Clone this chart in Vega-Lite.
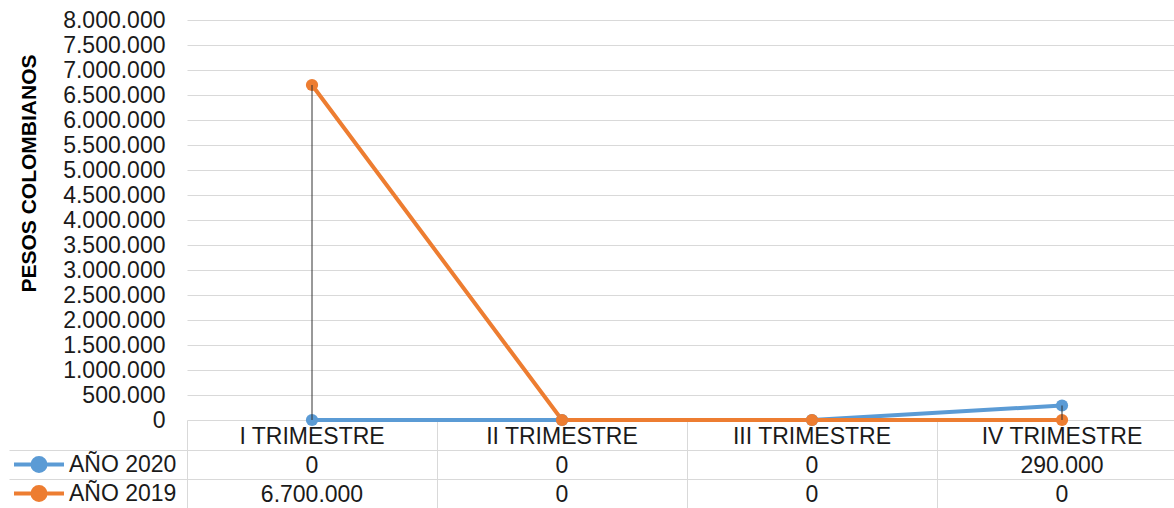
{
  "$schema": "https://vega.github.io/schema/vega-lite/v6.json",
  "padding": {"left": 8, "top": 9, "right": 0, "bottom": 0},
  "background": "white",
  "config": {
    "font": "Liberation Sans",
    "locale": {"number": {"decimal": ",", "thousands": ".", "grouping": [3], "currency": ["$", ""]}},
    "view": {"stroke": null}
  },
  "bounds": "flush",
  "spacing": 30,
  "datasets": {
    "d": [
      {"trimestre": "I TRIMESTRE", "serie": "AÑO 2020", "valor": 0},
      {"trimestre": "II TRIMESTRE", "serie": "AÑO 2020", "valor": 0},
      {"trimestre": "III TRIMESTRE", "serie": "AÑO 2020", "valor": 0},
      {"trimestre": "IV TRIMESTRE", "serie": "AÑO 2020", "valor": 290000},
      {"trimestre": "I TRIMESTRE", "serie": "AÑO 2019", "valor": 6700000},
      {"trimestre": "II TRIMESTRE", "serie": "AÑO 2019", "valor": 0},
      {"trimestre": "III TRIMESTRE", "serie": "AÑO 2019", "valor": 0},
      {"trimestre": "IV TRIMESTRE", "serie": "AÑO 2019", "valor": 0}
    ]
  },
  "vconcat": [
    {
      "width": 988,
      "height": 400,
      "data": {"name": "d"},
      "encoding": {
        "x": {
          "field": "trimestre",
          "type": "nominal",
          "sort": ["I TRIMESTRE", "II TRIMESTRE", "III TRIMESTRE", "IV TRIMESTRE"],
          "scale": {"type": "band", "range": [0, 1000], "paddingInner": 0, "paddingOuter": 0},
          "axis": {
            "title": null,
            "orient": "bottom",
            "bandPosition": 0,
            "ticks": true,
            "tickSize": 30,
            "tickColor": "#d9d9d9",
            "tickWidth": 1,
            "domain": false,
            "grid": false,
            "labelAngle": 0,
            "labelFontSize": 23,
            "labelColor": "#1a1a1a",
            "labelPadding": -7,
            "labelBaseline": "alphabetic"
          }
        }
      },
      "layer": [
        {
          "mark": {"type": "line", "strokeWidth": 4, "point": {"filled": true, "size": 150, "opacity": 1}},
          "encoding": {
            "y": {
              "field": "valor",
              "type": "quantitative",
              "scale": {"domain": [0, 8000000], "nice": false},
              "axis": {
                "title": "PESOS COLOMBIANOS",
                "titleFontSize": 21,
                "titleFontWeight": "bold",
                "titleColor": "#000000",
                "titleX": -148,
                "titleY": 153,
                "titleAngle": 270,
                "titleAlign": "center",
                "titleBaseline": "bottom",
                "tickCount": 16,
                "format": ",d",
                "labelFontSize": 23,
                "labelColor": "#1a1a1a",
                "labelPadding": 22,
                "ticks": false,
                "tickSize": 0,
                "domain": false,
                "grid": true,
                "gridColor": "#d9d9d9",
                "gridWidth": 1
              }
            },
            "color": {
              "field": "serie",
              "type": "nominal",
              "scale": {"domain": ["AÑO 2020", "AÑO 2019"], "range": ["#5B9BD5", "#ED7D31"]},
              "legend": {
                "orient": "none",
                "legendX": -175,
                "legendY": 430,
                "direction": "vertical",
                "title": null,
                "symbolType": "M-1,0H1M0.26,0A0.26,0.26,0,1,1,-0.26,0A0.26,0.26,0,1,1,0.26,0Z",
                "symbolSize": 2500,
                "symbolStrokeWidth": 4,
                "symbolOffset": 0,
                "clipHeight": 29,
                "rowPadding": 0,
                "padding": 0,
                "labelFontSize": 23,
                "labelColor": "#1a1a1a",
                "labelOffset": 3,
                "labelLimit": 300,
                "encode": {
                  "symbols": {
                    "update": {
                      "fill": {"scale": "color", "field": "value"},
                      "stroke": {"scale": "color", "field": "value"},
                      "opacity": {"value": 1}
                    }
                  }
                }
              }
            }
          }
        },
        {
          "mark": {"type": "rule", "color": "#333333", "strokeWidth": 1},
          "encoding": {
            "y": {"aggregate": "min", "field": "valor", "type": "quantitative", "title": "PESOS COLOMBIANOS"},
            "y2": {"aggregate": "max", "field": "valor"}
          }
        }
      ]
    },
    {
      "width": 988,
      "height": 58,
      "data": {"name": "d"},
      "mark": {"type": "text", "fontSize": 23, "color": "#1a1a1a", "dy": 1},
      "encoding": {
        "x": {
          "field": "trimestre",
          "type": "nominal",
          "sort": ["I TRIMESTRE", "II TRIMESTRE", "III TRIMESTRE", "IV TRIMESTRE"],
          "scale": {"type": "band", "range": [0, 1000], "paddingInner": 0, "paddingOuter": 0},
          "axis": {
            "orient": "top",
            "title": null,
            "labels": false,
            "ticks": false,
            "domain": false,
            "grid": true,
            "gridColor": "#d9d9d9",
            "bandPosition": 0
          }
        },
        "y": {
          "field": "serie",
          "type": "nominal",
          "sort": ["AÑO 2020", "AÑO 2019"],
          "scale": {"type": "band", "paddingInner": 0, "paddingOuter": 0},
          "axis": {
            "title": null,
            "labels": false,
            "ticks": true,
            "tickSize": 178,
            "tickColor": "#d9d9d9",
            "domain": true,
            "domainColor": "#d9d9d9",
            "grid": true,
            "gridColor": "#d9d9d9",
            "bandPosition": 0
          }
        },
        "text": {"field": "valor", "type": "quantitative", "format": ",d"}
      }
    }
  ]
}
